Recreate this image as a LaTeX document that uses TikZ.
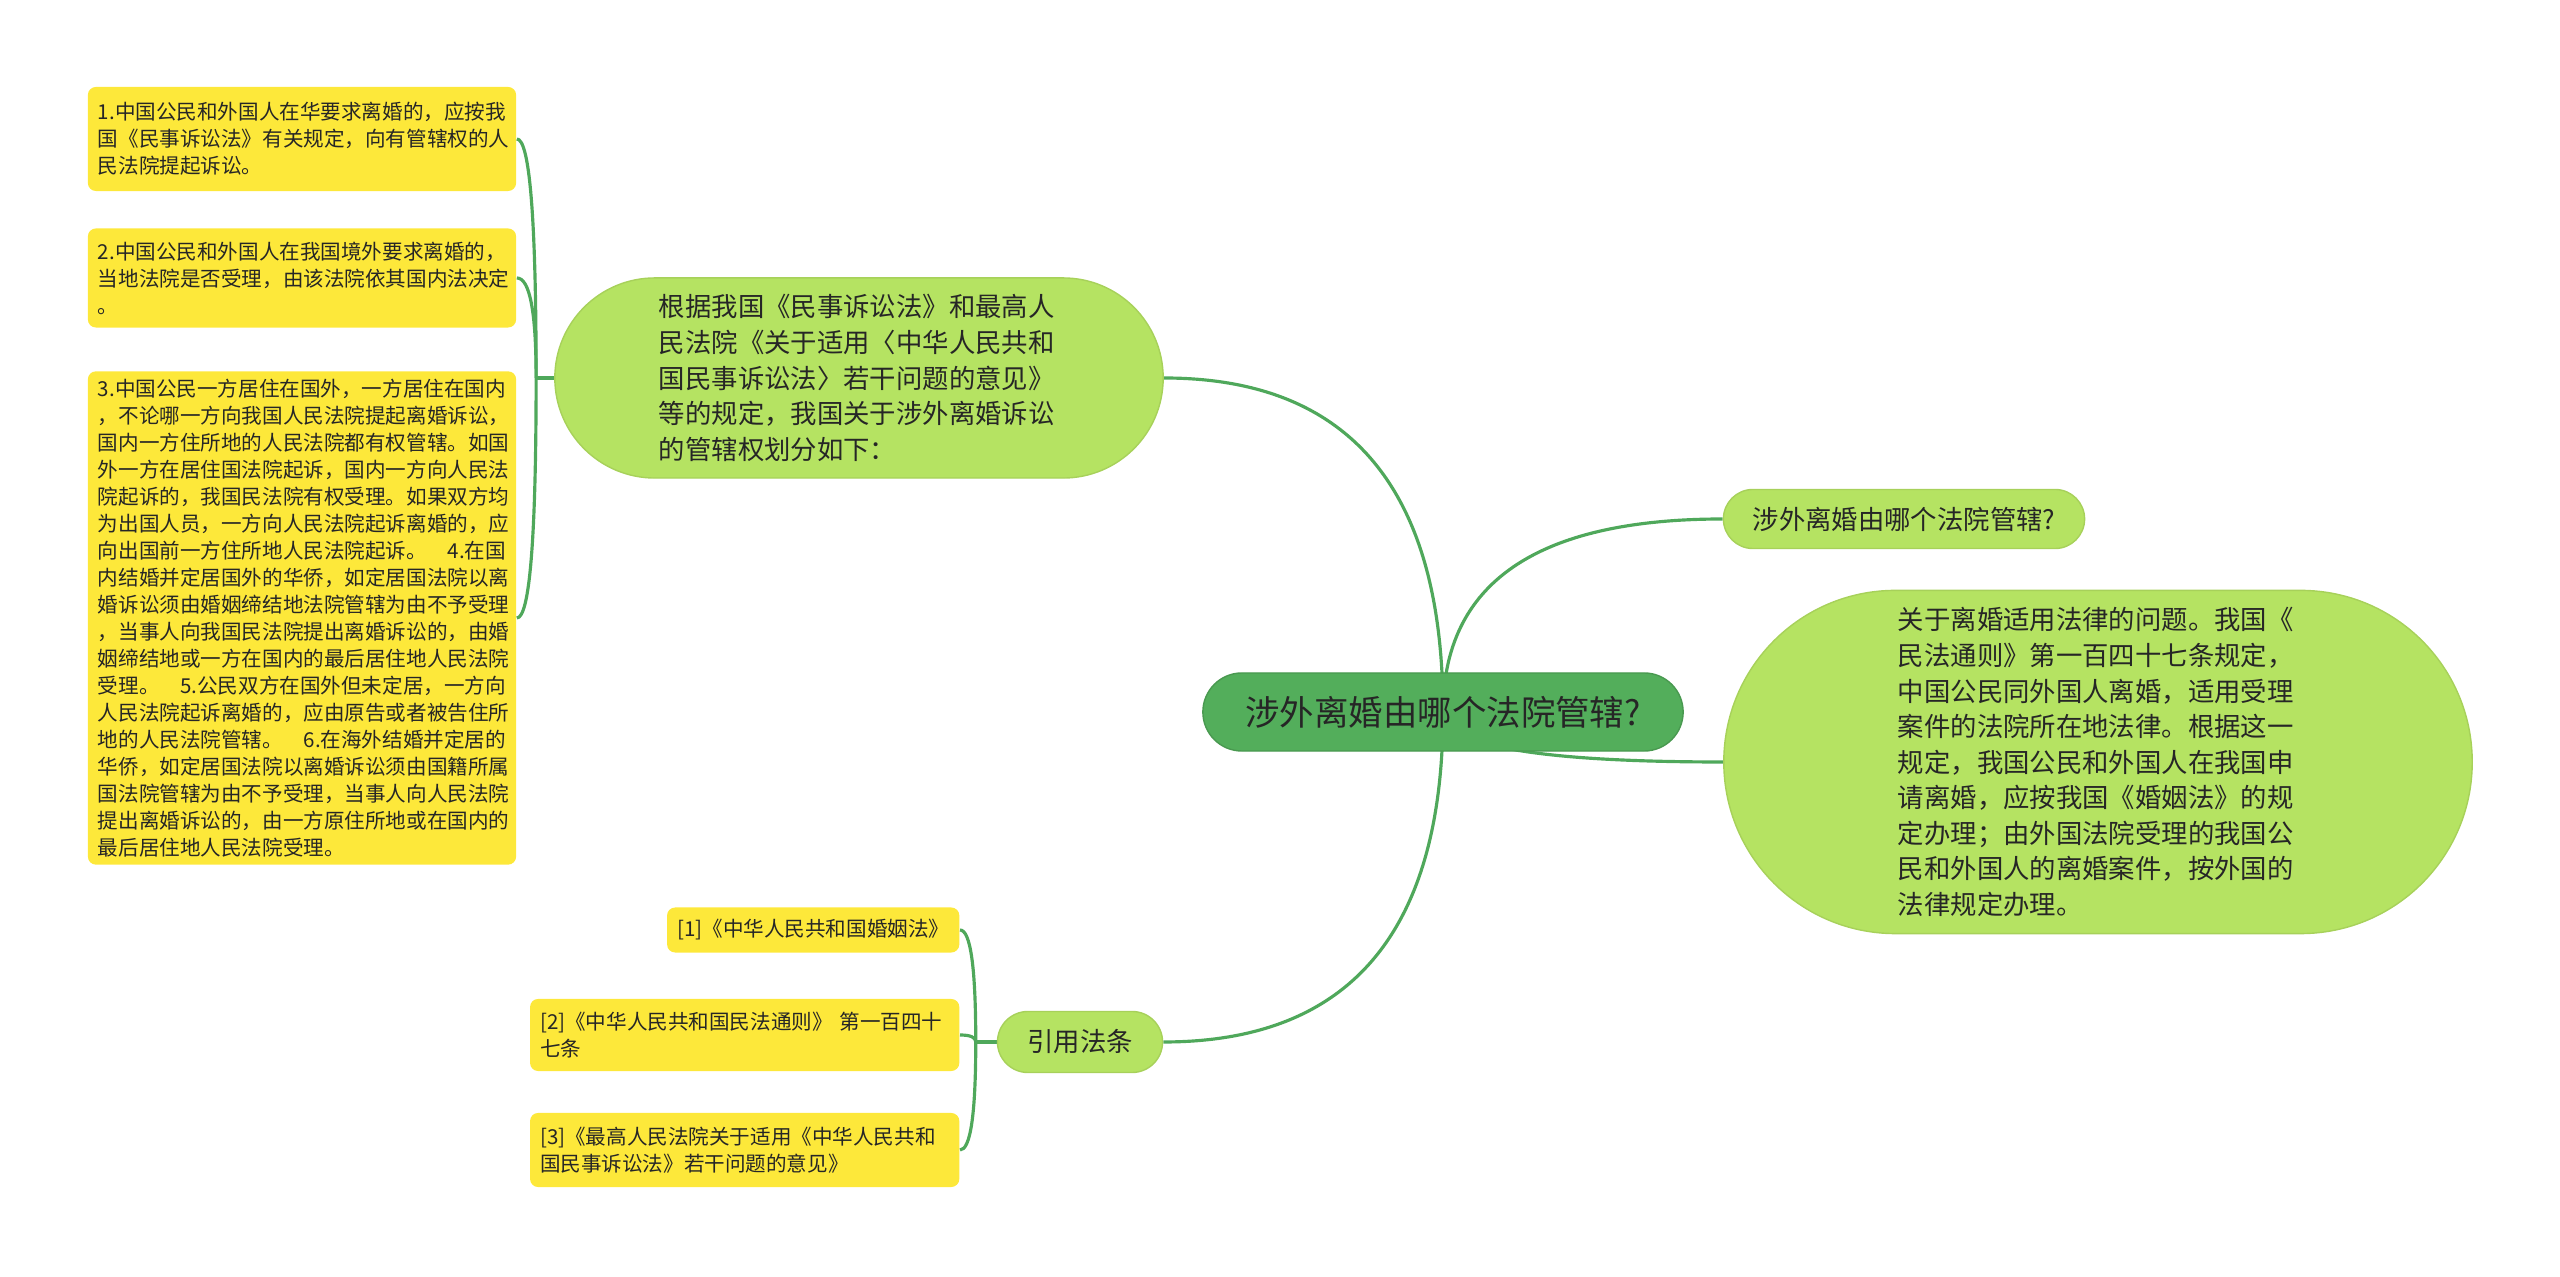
\documentclass[tikz,border=0pt]{standalone}
\usepackage{fontspec}
\setmainfont{Noto Sans CJK SC}
\usetikzlibrary{calc, backgrounds}

\definecolor{rootgreen}{HTML}{53AE5B}
\definecolor{topicgreen}{HTML}{B5E362}
\definecolor{leafyellow}{HTML}{FDE83A}
\definecolor{linegreen}{HTML}{4FA85B}
\definecolor{inkgray}{HTML}{262626}

% curved connector: bends at the corner (start x, end y)
\newcommand{\mmlink}[2]{%
  \draw[link] (#1) .. controls ($(#1)!0.667!(#1 |- #2)$) and ($(#2)!0.667!(#1 |- #2)$) .. (#2);}

\begin{document}
\begin{tikzpicture}[
x=0.01cm, y=-0.01cm,
root/.style={fill=rootgreen, draw=rootgreen!88!black, line width=0.4pt, text=inkgray,
  minimum width=4.8cm, minimum height=0.78cm, rounded corners=0.39cm,
  font=\fontsize{9.8pt}{12pt}\selectfont},
topic/.style={fill=topicgreen, draw=topicgreen!92!black, line width=0.4pt, text=inkgray,
  font=\fontsize{7.5pt}{10.1pt}\selectfont},
leaf/.style={fill=leafyellow, rounded corners=0.08cm, align=left, inner xsep=0.1cm,
  inner ysep=0.07cm, text=inkgray, font=\fontsize{5.85pt}{7.68pt}\selectfont},
link/.style={draw=linegreen, line width=0.9pt}
]

\useasboundingbox (0,0) rectangle (2560,1277);

\node[root] (root) at (1443,712) {涉外离婚由哪个法院管辖?};

\node[topic, text width=4cm, inner xsep=1.04cm, minimum height=2cm,
  rounded corners=1cm, align=left] (basis) at (859,378)
{根据我国《民事诉讼法》和最高人\\
民法院《关于适用〈中华人民共和\\
国民事诉讼法〉若干问题的意见》\\
等的规定，我国关于涉外离婚诉讼\\
的管辖权划分如下：};

\node[topic, minimum width=3.61cm, minimum height=0.59cm,
  rounded corners=0.295cm] (question) at (1904,519)
{涉外离婚由哪个法院管辖?};

\node[topic, text width=4cm, inner xsep=1.74cm, minimum height=3.43cm,
  rounded corners=1.715cm, align=left] (lawapply) at (2098,762)
{关于离婚适用法律的问题。我国《\\
民法通则》第一百四十七条规定，\\
中国公民同外国人离婚，适用受理\\
案件的法院所在地法律。根据这一\\
规定，我国公民和外国人在我国申\\
请离婚，应按我国《婚姻法》的规\\
定办理；由外国法院受理的我国公\\
民和外国人的离婚案件，按外国的\\
法律规定办理。};

\node[topic, minimum width=1.65cm, minimum height=0.61cm,
  rounded corners=0.305cm] (cite) at (1080,1042) {引用法条};

% jurisdiction rules
\node[leaf, text width=4.08cm, minimum height=1.04cm] (rule1) at (302,139)
{1.中国公民和外国人在华要求离婚的，应按我\\
国《民事诉讼法》有关规定，向有管辖权的人\\
民法院提起诉讼。};

\node[leaf, text width=4.08cm, minimum height=0.99cm] (rule2) at (302,278)
{2.中国公民和外国人在我国境外要求离婚的，\\
当地法院是否受理，由该法院依其国内法决定\\
。};

\node[leaf, text width=4.08cm, minimum height=4.93cm] (rule3) at (302,618)
{3.中国公民一方居住在国外，一方居住在国内\\
，不论哪一方向我国人民法院提起离婚诉讼，\\
国内一方住所地的人民法院都有权管辖。如国\\
外一方在居住国法院起诉，国内一方向人民法\\
院起诉的，我国民法院有权受理。如果双方均\\
为出国人员，一方向人民法院起诉离婚的，应\\
向出国前一方住所地人民法院起诉。\quad 4.在国\\
内结婚并定居国外的华侨，如定居国法院以离\\
婚诉讼须由婚姻缔结地法院管辖为由不予受理\\
，当事人向我国民法院提出离婚诉讼的，由婚\\
姻缔结地或一方在国内的最后居住地人民法院\\
受理。\quad 5.公民双方在国外但未定居，一方向\\
人民法院起诉离婚的，应由原告或者被告住所\\
地的人民法院管辖。\quad 6.在海外结婚并定居的\\
华侨，如定居国法院以离婚诉讼须由国籍所属\\
国法院管辖为由不予受理，当事人向人民法院\\
提出离婚诉讼的，由一方原住所地或在国内的\\
最后居住地人民法院受理。};

% cited laws
\node[leaf, anchor=east, minimum height=0.45cm] (ref1) at (960,930)
{[1]《中华人民共和国婚姻法》};

\node[leaf, anchor=east, text width=4.09cm, minimum height=0.72cm] (ref2) at (960,1035)
{[2]《中华人民共和国民法通则》 第一百四十\\
七条};

\node[leaf, anchor=east, text width=4.09cm, minimum height=0.74cm] (ref3) at (960,1150)
{[3]《最高人民法院关于适用《中华人民共和\\
国民事诉讼法》若干问题的意见》};

\coordinate (lj) at ($(basis.west)+(-18,0)$);
\coordinate (rj) at ($(cite.west)+(-21,0)$);

\begin{scope}[on background layer]
\mmlink{root.center}{basis.east}
\mmlink{root.center}{question.west}
\mmlink{root.center}{lawapply.west}
\mmlink{root.center}{cite.east}

\draw[link] (basis.west) -- (lj);
\mmlink{lj}{rule1.east}
\mmlink{lj}{rule2.east}
\mmlink{lj}{rule3.east}

\draw[link] (cite.west) -- (rj);
\mmlink{rj}{ref1.east}
\mmlink{rj}{ref2.east}
\mmlink{rj}{ref3.east}
\end{scope}

\end{tikzpicture}
\end{document}
